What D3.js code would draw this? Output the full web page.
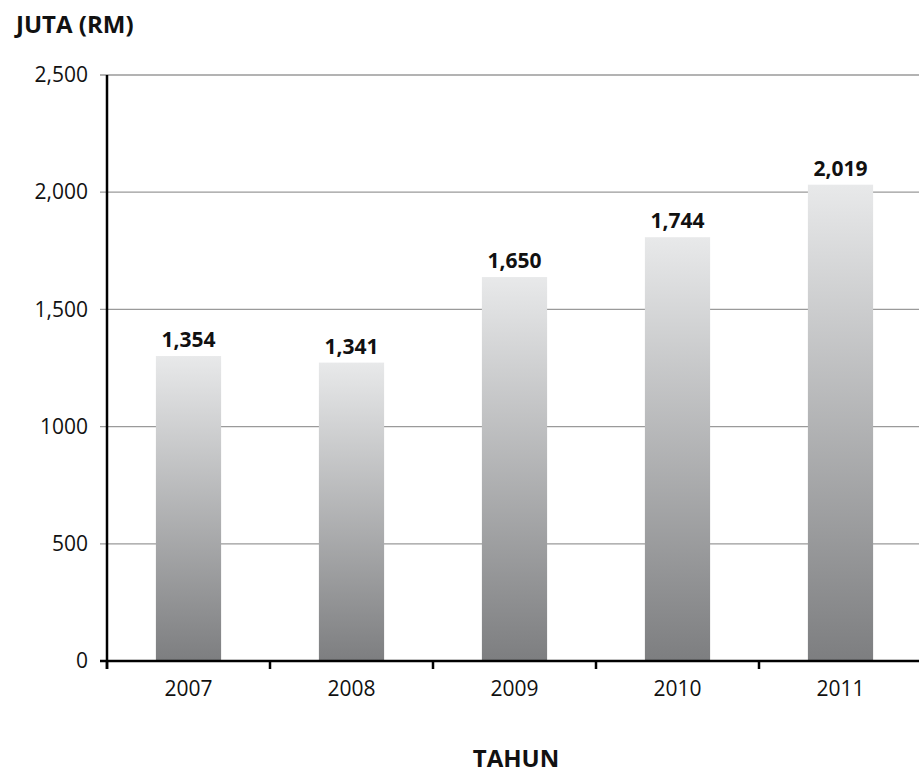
<!DOCTYPE html>
<html>
<head>
<meta charset="utf-8">
<script src="https://cdn.jsdelivr.net/npm/d3@7"></script>
<style>
  body { margin: 0; background: #fff; }
  text { font-family: "Open Sans", "Noto Sans", sans-serif; fill: #111; }
</style>
</head>
<body>
<div id="container"></div>
<script>
let w = 919;
let h = 776;

// data
let years = ["2007", "2008", "2009", "2010", "2011"];
let barValues = [1301, 1273, 1638, 1808, 2032];
let barLabels = ["1,354", "1,341", "1,650", "1,744", "2,019"];
let yTicks = [0, 500, 1000, 1500, 2000, 2500];
let yTickLabels = ["0", "500", "1000", "1,500", "2,000", "2,500"];

let plotLeft = 107, plotRight = 922, plotTop = 75, plotBottom = 661;

let viz = d3.select("#container").append("svg")
    .attr("width", w)
    .attr("height", h)
    .style("display", "block");

let defs = viz.append("defs");
let grad = defs.append("linearGradient")
    .attr("id", "barGrad")
    .attr("x1", 0).attr("y1", 0).attr("x2", 0).attr("y2", 1);
grad.append("stop").attr("offset", "0%").attr("stop-color", "#e8e9ea");
grad.append("stop").attr("offset", "100%").attr("stop-color", "#7d7e80");

let xScale = d3.scaleBand().domain(years).range([plotLeft, plotRight])
    .paddingInner(0.6).paddingOuter(0.3);
let yScale = d3.scaleLinear().domain([0, 2500]).range([plotBottom, plotTop]);

// gridlines
viz.append("g").attr("class", "grid")
  .selectAll("line").data(yTicks.filter(d => d > 0)).enter()
  .append("line")
    .attr("x1", plotLeft - 7)
    .attr("x2", w)
    .attr("y1", d => yScale(d))
    .attr("y2", d => yScale(d))
    .attr("stroke", "#9a9a9a")
    .attr("stroke-width", 1.3);

// y axis labels
let yAxis = d3.axisLeft(yScale)
    .tickValues(yTicks)
    .tickFormat((d, i) => yTickLabels[i])
    .tickSize(0)
    .tickPadding(19);
let yAxisGroup = viz.append("g")
    .attr("transform", "translate(" + plotLeft + ",0)")
    .call(yAxis);
yAxisGroup.select(".domain").remove();
yAxisGroup.selectAll("text")
    .style("font-size", "21px")
    .style("font-family", "'Open Sans', sans-serif")
    .attr("fill", "#111");

// bars
viz.append("g").selectAll("rect").data(barValues).enter()
  .append("rect")
    .attr("x", (d, i) => xScale(years[i]))
    .attr("y", d => yScale(d))
    .attr("width", xScale.bandwidth())
    .attr("height", d => yScale(0) - yScale(d))
    .attr("fill", "url(#barGrad)");

// value labels
viz.append("g").selectAll("text").data(barValues).enter()
  .append("text")
    .text((d, i) => barLabels[i])
    .attr("x", (d, i) => xScale(years[i]) + xScale.bandwidth() / 2)
    .attr("y", d => yScale(d) - 9)
    .attr("text-anchor", "middle")
    .style("font-size", "21px")
    .style("font-weight", "bold");

// x axis
let xAxis = d3.axisBottom(xScale).tickSize(0).tickPadding(20);
let xAxisGroup = viz.append("g")
    .attr("transform", "translate(0," + plotBottom + ")")
    .call(xAxis);
xAxisGroup.select(".domain").remove();
xAxisGroup.selectAll("text")
    .style("font-size", "21px")
    .style("font-family", "'Open Sans', sans-serif")
    .attr("fill", "#111");

// x tick marks at band boundaries
let step = xScale.step();
viz.append("g").selectAll("line").data(d3.range(years.length + 1)).enter()
  .append("line")
    .attr("x1", d => plotLeft + d * step)
    .attr("x2", d => plotLeft + d * step)
    .attr("y1", plotBottom)
    .attr("y2", plotBottom + 8)
    .attr("stroke", "#000")
    .attr("stroke-width", 2.5);

// axis lines
viz.append("line")
    .attr("x1", plotLeft - 7).attr("x2", w)
    .attr("y1", plotBottom).attr("y2", plotBottom)
    .attr("stroke", "#000").attr("stroke-width", 2.5);
viz.append("line")
    .attr("x1", plotLeft).attr("x2", plotLeft)
    .attr("y1", plotTop).attr("y2", plotBottom + 8)
    .attr("stroke", "#000").attr("stroke-width", 2.5);

// titles
viz.append("text")
    .text("JUTA (RM)")
    .attr("x", 16)
    .attr("y", 33)
    .style("font-size", "24px")
    .style("font-weight", "bold");

viz.append("text")
    .text("TAHUN")
    .attr("x", 516)
    .attr("y", 767)
    .attr("text-anchor", "middle")
    .style("font-size", "24px")
    .style("font-weight", "bold");
</script>
</body>
</html>
